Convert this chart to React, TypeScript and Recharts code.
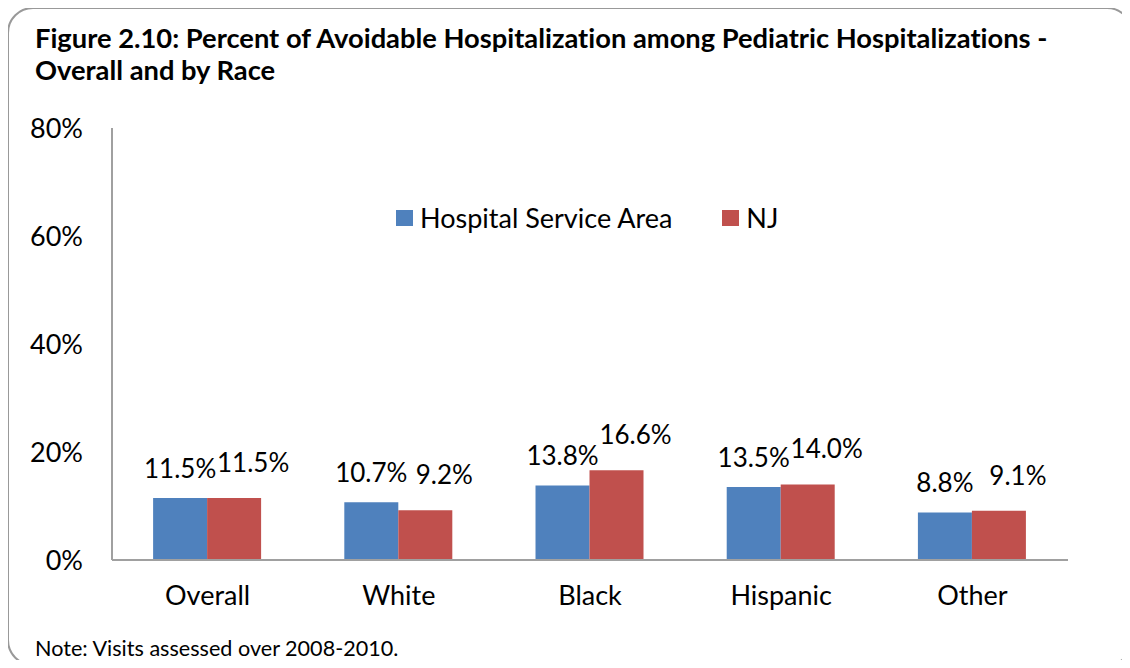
import React from 'react';
import { BarChart, Bar, XAxis, YAxis, Legend, LabelList } from 'recharts';

const categories = ['Overall', 'White', 'Black', 'Hispanic', 'Other'];
const hospitalServiceArea = [11.5, 10.7, 13.8, 13.5, 8.8];
const njValues = [11.5, 9.2, 16.6, 14.0, 9.1];
const yTicks = [0, 20, 40, 60, 80];

const BLUE = '#4F81BD';
const RED = '#C0504D';
const AXIS = '#A0A0A0';
const FONT = 'Lato, "Open Sans", sans-serif';

const data = categories.map((category, i) => ({
  category,
  hsa: hospitalServiceArea[i],
  nj: njValues[i],
}));

const makeLabel = (dx: number, lift: number) => (props: any) => {
  const { x, y, width, value } = props;
  return (
    <text
      x={x + width / 2 + dx}
      y={y - lift}
      textAnchor="middle"
      fontSize={26}
      fontFamily={FONT}
      fill="#000"
    >
      {Number(value).toFixed(1)}%
    </text>
  );
};

const LegendContent = (props: any) => {
  const { payload } = props;
  return (
    <div style={{ display: 'flex', alignItems: 'center', fontFamily: FONT, fontSize: 27, color: '#000' }}>
      {payload.map((item: any, i: number) => (
        <div key={i} style={{ display: 'flex', alignItems: 'center', marginRight: 50 }}>
          <span style={{ display: 'inline-block', width: 17, height: 16, background: item.color, marginRight: 7 }} />
          <span>{item.value}</span>
        </div>
      ))}
    </div>
  );
};

const App: React.FC = () => {
  return (
    <div style={{ position: 'relative', margin: -8, width: 1130, height: 668, overflow: 'hidden', background: '#fff' }}>
      <div
        style={{
          position: 'absolute',
          left: 7,
          top: 7,
          width: 1126,
          height: 659,
          border: '2px solid #999',
          borderRadius: 26,
          boxSizing: 'border-box',
        }}
      />
      <div
        style={{
          position: 'absolute',
          left: 35,
          top: 22,
          fontFamily: FONT,
          fontWeight: 700,
          fontSize: 27.3,
          lineHeight: '32px',
          color: '#000',
          whiteSpace: 'nowrap',
          fontVariantLigatures: 'none',
        }}
      >
        Figure 2.10: Percent of Avoidable Hospitalization among Pediatric Hospitalizations -
        <br />
        Overall and by Race
      </div>
      <div style={{ position: 'absolute', left: 0, top: 0 }}>
        <BarChart
          width={1130}
          height={668}
          data={data}
          margin={{ top: 128, right: 62, left: 0, bottom: 48 }}
          barCategoryGap="21.5%"
          barGap={0}
        >
          <XAxis
            dataKey="category"
            height={60}
            axisLine={{ stroke: AXIS, strokeWidth: 2 }}
            tickLine={false}
            tickSize={0}
            tickMargin={26}
            tick={{ fill: '#000', fontSize: 27, fontFamily: FONT }}
          />
          <YAxis
            width={112}
            domain={[0, 80]}
            ticks={yTicks}
            tickFormatter={(v: number) => `${v}%`}
            axisLine={{ stroke: AXIS, strokeWidth: 2 }}
            tickLine={false}
            tickSize={0}
            tickMargin={29}
            tick={{ fill: '#000', fontSize: 27, fontFamily: FONT }}
          />
          <Legend
            layout="horizontal"
            verticalAlign="middle"
            align="center"
            content={<LegendContent />}
            wrapperStyle={{ top: 201, left: 396, width: 'auto' }}
          />
          <Bar dataKey="hsa" name="Hospital Service Area" fill={BLUE} isAnimationActive={false}>
            <LabelList dataKey="hsa" content={makeLabel(0, 20)} />
          </Bar>
          <Bar dataKey="nj" name="NJ" fill={RED} isAnimationActive={false}>
            <LabelList dataKey="nj" content={makeLabel(19, 26)} />
          </Bar>
        </BarChart>
      </div>
      <div
        style={{
          position: 'absolute',
          left: 35,
          top: 635,
          fontFamily: FONT,
          fontSize: 21.6,
          lineHeight: '26px',
          color: '#000',
          whiteSpace: 'nowrap',
        }}
      >
        Note: Visits assessed over 2008-2010.
      </div>
    </div>
  );
};

export default App;
